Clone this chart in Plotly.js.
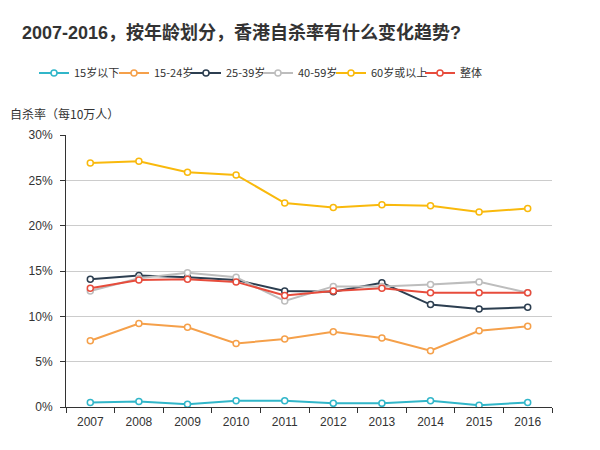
<!DOCTYPE html>
<html>
<head>
<meta charset="utf-8">
<script src="https://cdn.plot.ly/plotly-3.0.1.min.js"></script>
<style>html,body{margin:0;padding:0;background:#fff;}#chart{width:600px;height:450px;}</style>
</head>
<body>
<div id="chart"></div>
<script>
var years = ['2007','2008','2009','2010','2011','2012','2013','2014','2015','2016'];
var under15 = [0.5, 0.6, 0.3, 0.7, 0.7, 0.4, 0.4, 0.7, 0.2, 0.5];
var age15to24 = [7.3, 9.2, 8.8, 7.0, 7.5, 8.3, 7.6, 6.2, 8.4, 8.9];
var age25to39 = [14.1, 14.5, 14.3, 14.0, 12.8, 12.7, 13.7, 11.3, 10.8, 11.0];
var age40to59 = [12.8, 14.2, 14.8, 14.3, 11.7, 13.3, 13.3, 13.5, 13.8, 12.6];
var age60plus = [26.9, 27.1, 25.9, 25.6, 22.5, 22.0, 22.3, 22.2, 21.5, 21.9];
var overall = [13.1, 14.0, 14.1, 13.8, 12.3, 12.8, 13.1, 12.6, 12.6, 12.6];
var seriesNames = ['15岁以下', '15-24岁', '25-39岁', '40-59岁', '60岁或以上', '整体'];
var seriesColors = ['#31b6c9', '#f5a04a', '#2c3e50', '#bdbdbd', '#f9b90c', '#e74c3c'];
var yTicks = [0, 5, 10, 15, 20, 25, 30];
var yTickText = ['0%', '5%', '10%', '15%', '20%', '25%', '30%'];

var seriesValues = [under15, age15to24, age25to39, age40to59, age60plus, overall];
var font = '"Liberation Sans", Arial, "Noto Sans CJK SC", sans-serif';
var cjk = '"Noto Sans CJK SC", "Liberation Sans", sans-serif';

// legend entry left edges (px, container)
var legendLeft = [34, 114, 186, 258, 331, 420];

var traces = seriesValues.map(function (vals, i) {
  return {
    type: 'scatter',
    mode: 'lines+markers',
    x: years,
    y: vals,
    name: seriesNames[i],
    legend: i === 0 ? 'legend' : 'legend' + (i + 1),
    line: {color: seriesColors[i], width: 2},
    marker: {symbol: 'circle', size: 6, color: '#ffffff', line: {color: seriesColors[i], width: 1.5}},
    hoverinfo: 'skip'
  };
});

var layout = {
  width: 600, height: 450,
  margin: {l: 66, r: 48, t: 135, b: 43},
  paper_bgcolor: '#ffffff', plot_bgcolor: '#ffffff',
  font: {family: font, size: 12, color: '#333333'},
  title: {
    text: '<b>2007-2016，按年龄划分，香港自杀率有什么变化趋势?</b>',
    font: {family: font, size: 18, color: '#333333'},
    xref: 'container', yref: 'container', x: 22/600, xanchor: 'left', y: 1 - 33/450, yanchor: 'middle'
  },
  showlegend: true,
  xaxis: {
    type: 'category', range: [-0.5, 9.5],
    tickson: 'boundaries', ticks: 'outside', ticklen: 5, tickcolor: '#333333',
    showline: true, linecolor: '#333333', linewidth: 1,
    showgrid: false, zeroline: false, fixedrange: true, ticklabelstandoff: 4,
    tickfont: {family: font, size: 12, color: '#333333'}
  },
  yaxis: {
    range: [0, 30], tickvals: yTicks, ticktext: yTickText,
    ticks: 'outside', ticklen: 5, tickcolor: '#333333',
    showline: true, linecolor: '#333333', linewidth: 1,
    showgrid: true, gridcolor: '#cccccc', gridwidth: 1, zeroline: false, fixedrange: true, ticklabelstandoff: 5,
    tickfont: {family: font, size: 12, color: '#333333'}
  },
  annotations: [{
    text: '自杀率（每10万人）', xref: 'paper', yref: 'paper',
    x: -58/486, xanchor: 'left', y: 1 + 22/272, yanchor: 'middle',
    showarrow: false, font: {family: cjk, size: 12, color: '#333333'}
  }]
};

legendLeft.forEach(function (lx, i) {
  var key = i === 0 ? 'legend' : 'legend' + (i + 1);
  layout[key] = {
    orientation: 'h', xref: 'container', yref: 'container',
    x: lx / 600, xanchor: 'left', y: 1 - 73/450, yanchor: 'middle',
    font: {family: cjk, size: 11, color: '#333333'},
    itemwidth: 30, bgcolor: 'rgba(0,0,0,0)'
  };
});

Plotly.newPlot('chart', traces, layout, {displayModeBar: false, staticPlot: true});
</script>
</body>
</html>
